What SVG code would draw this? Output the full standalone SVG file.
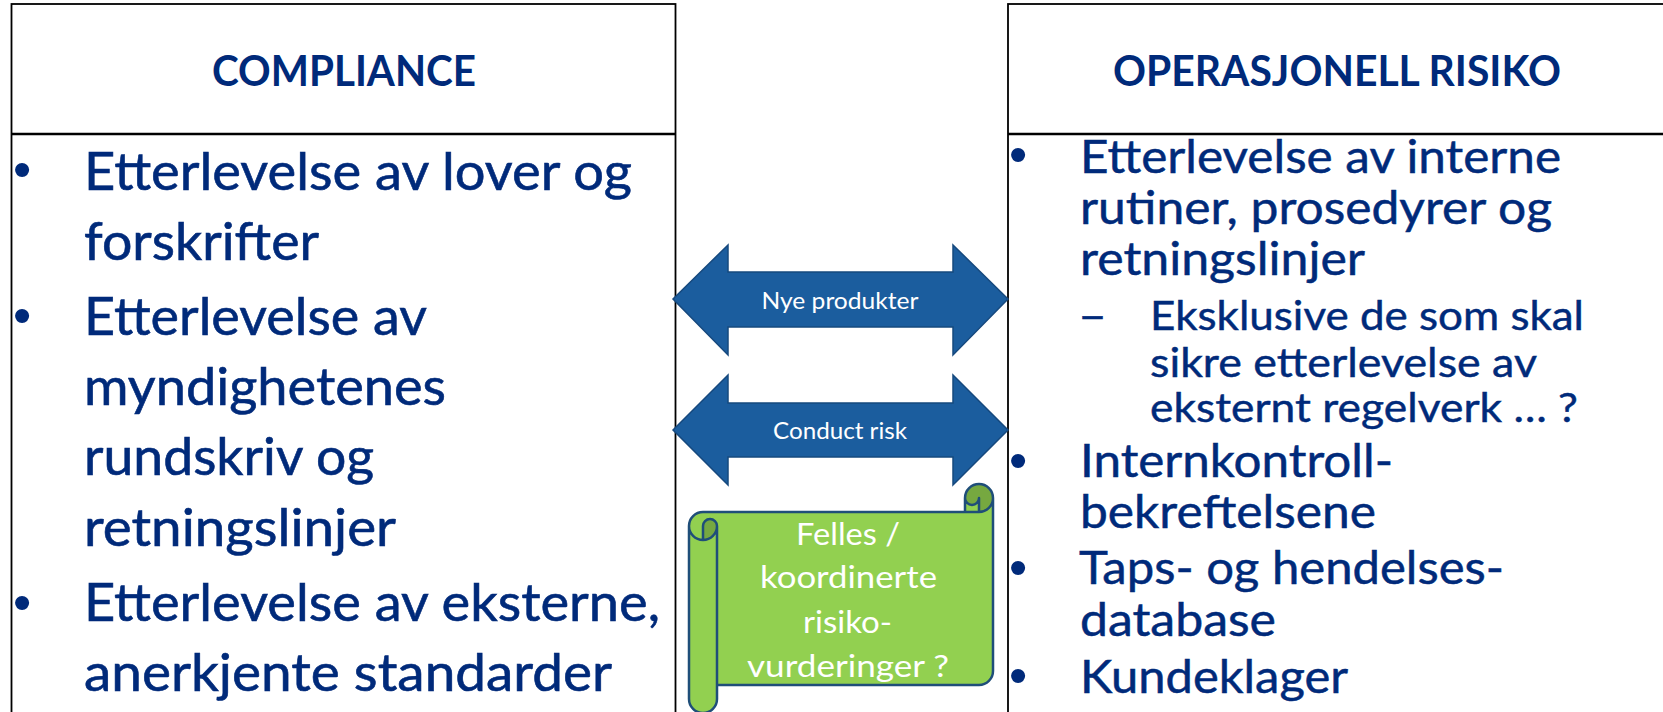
<svg xmlns="http://www.w3.org/2000/svg" width="1663" height="712" viewBox="0 0 1663 712">
<style>
.box{fill:#fff;stroke:#000;stroke-width:1.8}
.div{stroke:#000;stroke-width:2.6}
.title{font-family:Lato,"Noto Sans",sans-serif;font-weight:700;font-size:42px;fill:#002A7A}
.tl{font-family:Lato,"Noto Sans",sans-serif;font-size:53px;fill:#002A7A;stroke:#002A7A;stroke-width:0.6}
.tr{font-family:Lato,"Noto Sans",sans-serif;font-size:46px;fill:#002A7A;stroke:#002A7A;stroke-width:0.5}
.ts{font-family:Lato,"Noto Sans",sans-serif;font-size:40px;fill:#002A7A;stroke:#002A7A;stroke-width:0.45}
.bul{font-family:"Liberation Sans",Arial,sans-serif;font-size:52px;fill:#002A7A;text-anchor:middle}
.arrow{fill:#1B5D9E;stroke:#16497E;stroke-width:1.5}
.alab{font-family:Lato,"Noto Sans",sans-serif;font-size:23px;fill:#fff;text-anchor:middle}
.slab{font-family:Lato,"Noto Sans",sans-serif;font-size:31px;fill:#fff}
</style>
<rect width="1663" height="712" fill="#fff"/>
<g id="compliance">
  <rect class="box" x="11.5" y="4" width="664" height="760"/>
  <line class="div" x1="11.5" y1="134" x2="675.5" y2="134"/>
  <text class="title" x="212" y="86" textLength="264" lengthAdjust="spacingAndGlyphs">COMPLIANCE</text>
  <text class="bul" x="22" y="187">•</text>
  <text class="bul" x="22" y="333">•</text>
  <text class="bul" x="22" y="620">•</text>
  <text class="tl" x="84" y="190" textLength="548" lengthAdjust="spacingAndGlyphs">Etterlevelse av lover og</text>
  <text class="tl" x="84" y="260" textLength="235" lengthAdjust="spacingAndGlyphs">forskrifter</text>
  <text class="tl" x="84" y="335" textLength="343" lengthAdjust="spacingAndGlyphs">Etterlevelse av</text>
  <text class="tl" x="84" y="405" textLength="362" lengthAdjust="spacingAndGlyphs">myndighetenes</text>
  <text class="tl" x="84" y="475" textLength="290" lengthAdjust="spacingAndGlyphs">rundskriv og</text>
  <text class="tl" x="84" y="546" textLength="312" lengthAdjust="spacingAndGlyphs">retningslinjer</text>
  <text class="tl" x="84" y="621" textLength="576" lengthAdjust="spacingAndGlyphs">Etterlevelse av eksterne,</text>
  <text class="tl" x="84" y="691" textLength="528" lengthAdjust="spacingAndGlyphs">anerkjente standarder</text>
</g>
<g id="operasjonell-risiko">
  <rect class="box" x="1008" y="4" width="700" height="760"/>
  <line class="div" x1="1008" y1="134" x2="1663" y2="134"/>
  <text class="title" x="1113" y="86" textLength="448" lengthAdjust="spacingAndGlyphs">OPERASJONELL RISIKO</text>
  <text class="bul" x="1018" y="172">•</text>
  <text class="bul" x="1018" y="478">•</text>
  <text class="bul" x="1018" y="585">•</text>
  <text class="bul" x="1018" y="693">•</text>
  <text class="tr" x="1080" y="173" textLength="481" lengthAdjust="spacingAndGlyphs">Etterlevelse av interne</text>
  <text class="tr" x="1080" y="224" textLength="472" lengthAdjust="spacingAndGlyphs">rutiner, prosedyrer og</text>
  <text class="tr" x="1080" y="275" textLength="285" lengthAdjust="spacingAndGlyphs">retningslinjer</text>
  <text class="ts" x="1078" y="330" textLength="29" lengthAdjust="spacingAndGlyphs">–</text>
  <text class="ts" x="1150" y="330" textLength="434" lengthAdjust="spacingAndGlyphs">Eksklusive de som skal</text>
  <text class="ts" x="1150" y="377" textLength="387" lengthAdjust="spacingAndGlyphs">sikre etterlevelse av</text>
  <text class="ts" x="1150" y="422" textLength="428" lengthAdjust="spacingAndGlyphs">eksternt regelverk … ?</text>
  <text class="tr" x="1080" y="477" textLength="313" lengthAdjust="spacingAndGlyphs">Internkontroll-</text>
  <text class="tr" x="1080" y="528" textLength="296" lengthAdjust="spacingAndGlyphs">bekreftelsene</text>
  <text class="tr" x="1079" y="584" textLength="425" lengthAdjust="spacingAndGlyphs">Taps- og hendelses-</text>
  <text class="tr" x="1080" y="636" textLength="196" lengthAdjust="spacingAndGlyphs">database</text>
  <text class="tr" x="1080" y="693" textLength="268" lengthAdjust="spacingAndGlyphs">Kundeklager</text>
</g>
<g id="connectors">
  <g id="arrow-nye-produkter">
    <polygon class="arrow" points="673,299 728,245 728,272 953,272 953,245 1008,299 953,355 953,327 728,327 728,355"/>
    <text class="alab" x="840" y="309" textLength="157" lengthAdjust="spacingAndGlyphs">Nye produkter</text>
  </g>
  <g id="arrow-conduct-risk">
    <polygon class="arrow" points="673,430 728,375 728,403 953,403 953,375 1008,430 953,485 953,457 728,457 728,485"/>
    <text class="alab" x="840" y="439" textLength="134" lengthAdjust="spacingAndGlyphs">Conduct risk</text>
  </g>
</g>
<g id="felles-scroll">
  <path fill="#92D050" d="M 993 498 A 14 14 0 0 1 979 512 L 979 498 A 7 7 0 0 1 965 498 L 965 512 L 703 512 A 14 14 0 0 0 689 526 L 689 699 A 14 14 0 0 0 717 699 L 717 685 L 979 685 A 14 14 0 0 0 993 671 Z"/>
  <path fill="#76A840" d="M 703 540 A 14 14 0 0 0 717 526 A 7 7 0 0 0 703 526 Z M 979 512 A 14 14 0 1 0 965 498 A 7 7 0 0 0 979 498 Z"/>
  <path fill="none" stroke="#1F4E79" stroke-width="2.5" stroke-linejoin="round" d="M 689 526 A 14 14 0 0 1 703 512 L 965 512 L 965 498 A 14 14 0 0 1 993 498 L 993 671 A 14 14 0 0 1 979 685 L 717 685 L 717 699 A 14 14 0 0 1 689 699 Z M 965 512 L 979 512 A 14 14 0 0 0 993 498 M 979 512 L 979 498 A 7 7 0 0 1 965 498 M 703 540 L 703 526 A 7 7 0 0 1 717 526 A 14 14 0 0 1 689 526 M 717 526 L 717 685"/>
  <text class="slab" x="796" y="545" textLength="104" lengthAdjust="spacingAndGlyphs">Felles /</text>
  <text class="slab" x="760" y="588" textLength="177" lengthAdjust="spacingAndGlyphs">koordinerte</text>
  <text class="slab" x="803" y="633" textLength="89" lengthAdjust="spacingAndGlyphs">risiko-</text>
  <text class="slab" x="747" y="677" textLength="202" lengthAdjust="spacingAndGlyphs">vurderinger ?</text>
</g>
</svg>
